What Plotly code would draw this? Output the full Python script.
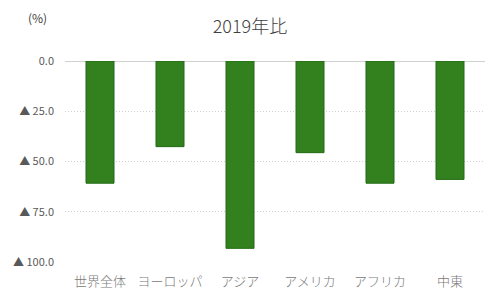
import plotly.graph_objects as go

categories = ["世界全体", "ヨーロッパ", "アジア", "アメリカ", "アフリカ", "中東"]
values = [-60.8, -42.6, -93.2, -45.6, -60.8, -58.9]
tick_vals = [0, -25, -50, -75, -100]
tick_text = ["0.0", "▲ 25.0", "▲ 50.0", "▲ 75.0", "▲ 100.0"]

font = "Noto Sans CJK JP"

fig = go.Figure(go.Bar(
    x=categories, y=values,
    marker=dict(color="#33801f", line=dict(color="#236b14", width=1)),
))

fig.update_layout(
    width=500, height=300,
    margin=dict(l=65, r=15, t=61, b=38),
    plot_bgcolor="white", paper_bgcolor="white",
    bargap=0.6,
    showlegend=False,
    font=dict(family=font, color="#595959", size=11),
    title=dict(text="2019年比", x=0.5, xanchor="center", xref="container",
               y=1 - 27 / 300, yref="container", yanchor="middle",
               font=dict(size=18, color="#404040", family=font, weight=300)),
    annotations=[dict(text="(%)", xref="paper", yref="paper", x=-0.065, y=1 + 44 / 201,
                      xanchor="center", yanchor="middle", showarrow=False,
                      font=dict(size=12, color="#404040", family=font))],
)
fig.update_yaxes(range=[-100, 0], tickvals=tick_vals, ticktext=tick_text,
                 showgrid=True, gridcolor="#cfcfcf", griddash="1px,2px", gridwidth=1,
                 zeroline=True, zerolinecolor="#d0d0d0", zerolinewidth=1,
                 showline=False, ticks="", ticklabelstandoff=10, automargin=False,
                 tickfont=dict(size=11, color="#595959", family=font))
fig.update_xaxes(showgrid=False, showline=False, ticks="", automargin=False,
                 tickfont=dict(size=13, color="#7a7a7a", family=font, weight=300),
                 ticklabelstandoff=10)

fig.write_html("out.html")
